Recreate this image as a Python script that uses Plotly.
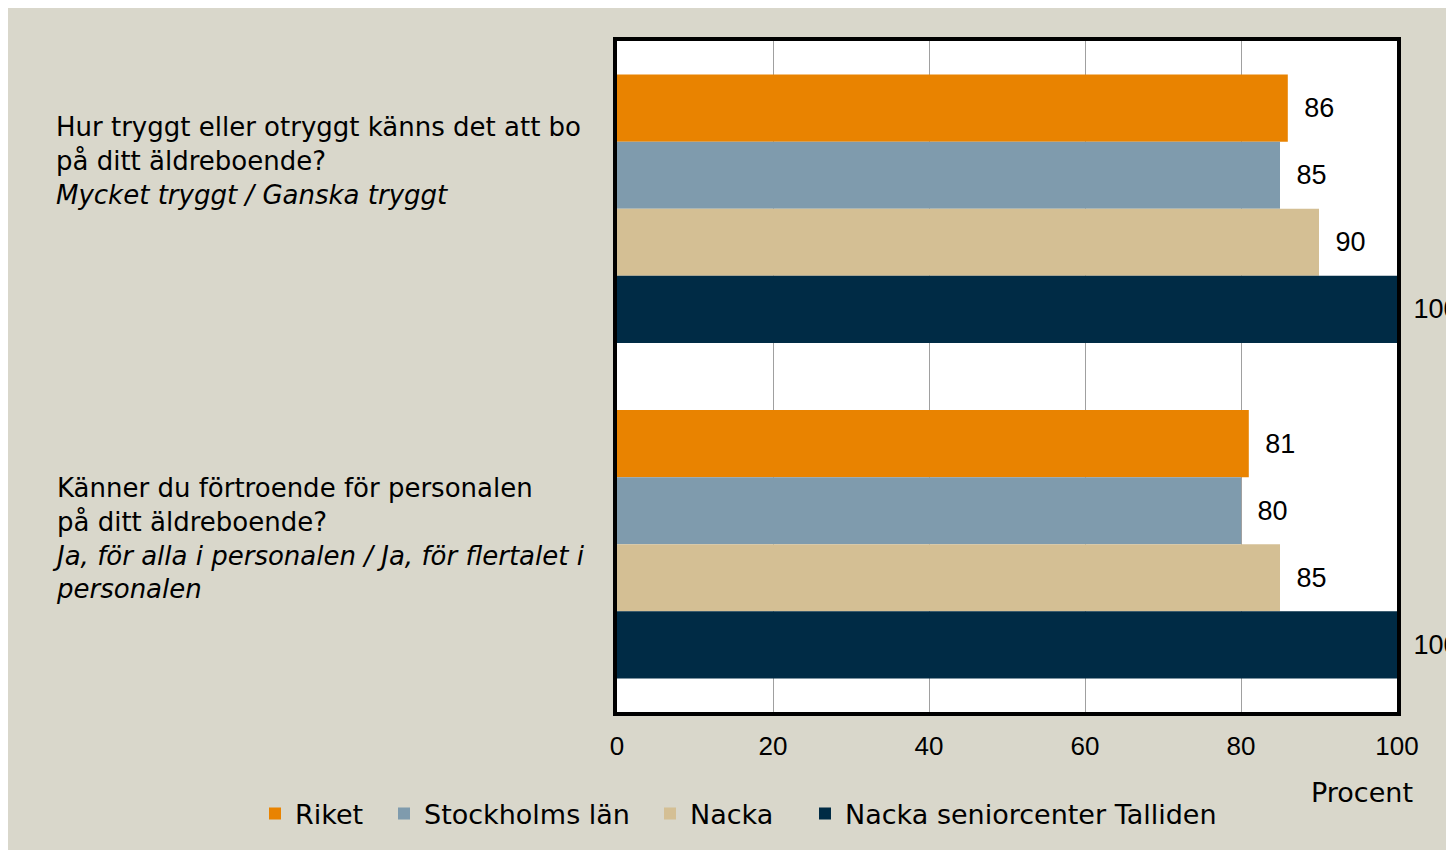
import plotly.graph_objects as go

questions = [
    "Hur tryggt eller otryggt känns det att bo<br>på ditt äldreboende?",
    "Känner du förtroende för personalen<br>på ditt äldreboende?",
]
subtitles = [
    "Mycket tryggt / Ganska tryggt",
    "Ja, för alla i personalen / Ja, för flertalet i<br>personalen",
]
categories = ["Q1", "Q2"]
series_names = ["Riket", "Stockholms län", "Nacka", "Nacka seniorcenter Talliden"]
series_values = [
    [86, 81],
    [85, 80],
    [90, 85],
    [100, 100],
]
colors = ["#E98300", "#7F9BAD", "#D4BF94", "#002B45"]
x_ticks = [0, 20, 40, 60, 80, 100]
axis_title = "Procent"

TEXT_FONT = "DejaVu Sans"
NUM_FONT = "Liberation Sans"
FS = 27
LFS = 26
NFS = 26
OFF = 8  # page body margin
W, H = 1446, 842
L, T = 617 - OFF, 41 - OFF
PR, PB = 1397 - OFF, 712 - OFF
R, B = W - PR, H - PB
pw, ph = PR - L, PB - T


def px2x(px):  # page pixel -> paper x
    return (px - OFF - L) / pw


def py2y(py):  # page pixel -> paper y
    return (PB - (py - OFF)) / ph


legend_ids = ["legend", "legend2", "legend3", "legend4"]
legend_left_px = [262, 391, 657, 812]

fig = go.Figure()
for name, vals, col, lid in zip(series_names, series_values, colors, legend_ids):
    fig.add_trace(go.Bar(
        name=name, y=categories, x=vals, orientation="h", legend=lid,
        marker=dict(color=col, line=dict(width=0)),
        text=vals, texttemplate="\u2002%{x}", textposition="outside",
        textfont=dict(family=NUM_FONT, size=27, color="#000000"),
        cliponaxis=False, constraintext="none",
    ))

annotations = []
yshifts = [48, 6]
xshifts = [-3, -7]
for cat, q, s, ys, xs in zip(categories, questions, subtitles, yshifts, xshifts):
    annotations.append(dict(
        xref="paper", yref="y", x=px2x(57), y=cat, xanchor="left", yanchor="middle",
        yshift=ys, xshift=xs, align="left", showarrow=False,
        text=f"{q}<br><i>{s}</i>",
        font=dict(family=TEXT_FONT, size=LFS, color="#000000"),
    ))
annotations.append(dict(
    xref="paper", yref="paper", x=px2x(1362), y=py2y(792), xanchor="center", yanchor="middle",
    showarrow=False, text=axis_title, font=dict(family=TEXT_FONT, size=FS, color="#000000"),
))

legends = {}
for lid, lx in zip(legend_ids, legend_left_px):
    legends[lid] = dict(orientation="h", xref="paper", yref="paper",
                        x=px2x(lx), y=py2y(814), xanchor="left", yanchor="middle",
                        font=dict(family=TEXT_FONT, size=FS, color="#000000"),
                        bgcolor="rgba(0,0,0,0)", itemclick=False, itemdoubleclick=False,
                        indentation=-7)

fig.update_layout(
    width=W, height=H,
    margin=dict(l=L, r=R, t=T, b=B, pad=0),
    paper_bgcolor="#D9D7CB",
    plot_bgcolor="#FFFFFF",
    barmode="group", bargap=0.2, bargroupgap=0,
    font=dict(family=TEXT_FONT, size=FS, color="#000000"),
    showlegend=True,
    annotations=annotations,
    **legends,
)
fig.update_xaxes(range=[0, 100], tickvals=x_ticks, ticktext=[str(t) for t in x_ticks],
                 showgrid=True, gridcolor="#A0A0A0", gridwidth=1, zeroline=False,
                 showline=True, linecolor="#000000", linewidth=4, mirror=True,
                 ticks="", ticklen=0, ticklabelstandoff=8,
                 tickfont=dict(family=NUM_FONT, size=NFS, color="#000000"))
fig.update_yaxes(autorange="reversed", showticklabels=False, showgrid=False,
                 showline=True, linecolor="#000000", linewidth=4, mirror=True, ticks="")

fig.write_html("out.html")
